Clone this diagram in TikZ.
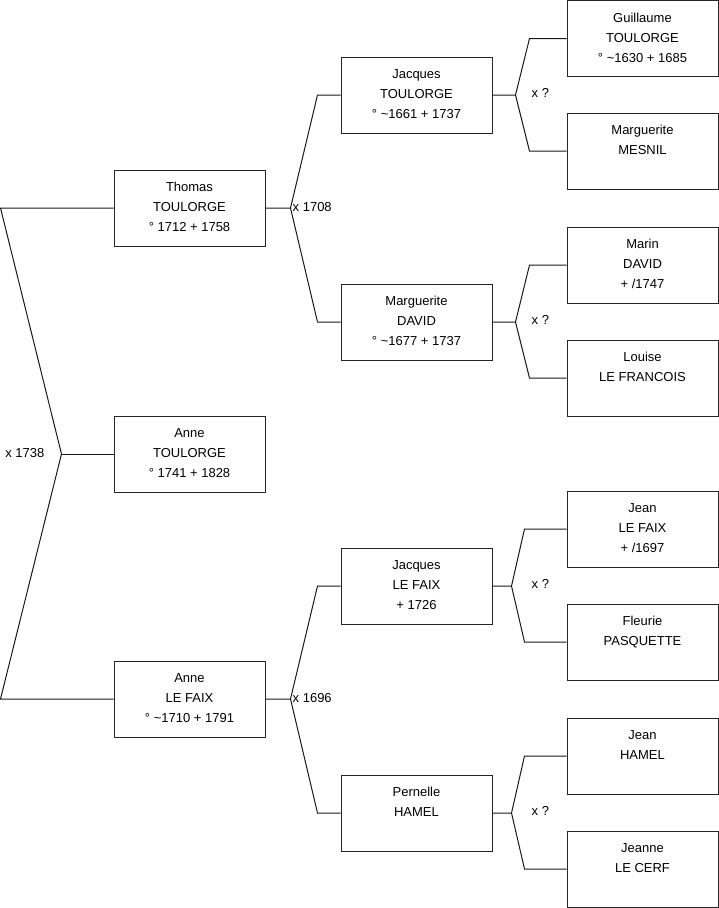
\documentclass[tikz,border=0pt]{standalone}
\usepackage{fontspec}
\setmainfont{Liberation Sans}
\newcommand\tailstrut{\rule[-2pt]{0pt}{2pt}}
\tikzset{
  person/.style={draw=black!85, line width=1pt, minimum width=151pt, minimum height=76pt,
    inner sep=0pt, align=center, font=\fontsize{13}{20}\selectfont},
  link/.style={draw=black!90, line width=1pt},
  union/.style={font=\fontsize{13}{16}\selectfont, inner sep=0pt}
}
\begin{document}
\begin{tikzpicture}[x=1pt,y=-1pt]
\useasboundingbox (0,0) rectangle (719,908);
% generation 1
\node[person] (thomas) at (189.5,208) {Thomas\\TOULORGE\\° 1712 + 1758\tailstrut};
\node[person] (anneT)  at (189.5,454) {Anne\\TOULORGE\\° 1741 + 1828\tailstrut};
\node[person] (anneLF) at (189.5,699) {Anne\\LE FAIX\\° \textasciitilde 1710 + 1791\tailstrut};
% generation 2
\node[person] (jacquesT)  at (416.5,95)  {Jacques\\TOULORGE\\° \textasciitilde 1661 + 1737\tailstrut};
\node[person] (margD)     at (416.5,322) {Marguerite\\DAVID\\° \textasciitilde 1677 + 1737\tailstrut};
\node[person] (jacquesLF) at (416.5,586) {Jacques\\LE FAIX\\+ 1726\tailstrut};
\node[person] (pernelle)  at (416.5,813) {Pernelle\\HAMEL\\\tailstrut};
% generation 3
\node[person] (guillaume) at (642.5,38.5) {Guillaume\\TOULORGE\\° \textasciitilde 1630 + 1685\tailstrut};
\node[person] (margM)     at (642.5,151) {Marguerite\\MESNIL\\\tailstrut};
\node[person] (marin)     at (642.5,265) {Marin\\DAVID\\+ /1747\tailstrut};
\node[person] (louise)    at (642.5,378) {Louise\\LE FRANCOIS\\\tailstrut};
\node[person] (jeanLF)    at (642.5,529) {Jean\\LE FAIX\\+ /1697\tailstrut};
\node[person] (fleurie)   at (642.5,642) {Fleurie\\PASQUETTE\\\tailstrut};
\node[person] (jeanH)     at (642.5,756) {Jean\\HAMEL\\\tailstrut};
\node[person] (jeanne)    at (642.5,869) {Jeanne\\LE CERF\\\tailstrut};

% fork x 1738
\coordinate (f0) at ([xshift=-52pt]anneT.west);
\coordinate (f0a) at ([xshift=-113pt]thomas.west);
\coordinate (f0b) at ([xshift=-113pt]anneLF.west);
\draw[link] (thomas.west) -- (f0a) -- (f0) -- (f0b) -- (anneLF.west);
\draw[link] (f0) -- (anneT.west);
\node[union, anchor=east] (u0) at ([xshift=-17pt,yshift=1pt]f0) {x 1738};

% fork x 1708
\coordinate (f1) at ([xshift=25pt]thomas.east);
\draw[link] (thomas.east) -- (f1) -- ([xshift=-23pt]jacquesT.west) -- (jacquesT.west);
\draw[link] (f1) -- ([xshift=-23pt]margD.west) -- (margD.west);
\node[union, anchor=west] (u1) at ([xshift=2pt,yshift=1pt]f1) {x 1708};

% fork x 1696
\coordinate (f2) at ([xshift=25pt]anneLF.east);
\draw[link] (anneLF.east) -- (f2) -- ([xshift=-23pt]jacquesLF.west) -- (jacquesLF.west);
\draw[link] (f2) -- ([xshift=-23pt]pernelle.west) -- (pernelle.west);
\node[union, anchor=west] (u2) at ([xshift=2pt,yshift=1pt]f2) {x 1696};

% forks generation 2 -> 3
\coordinate (g1) at ([xshift=23pt]jacquesT.east);
\draw[link] (jacquesT.east) -- (g1) -- ([xshift=-37pt]guillaume.west) -- (guillaume.west);
\draw[link] (g1) -- ([xshift=-37pt]margM.west) -- (margM.west);
\node[union, anchor=west] (v1) at ([xshift=16pt,yshift=2pt]g1) {x ?};

\coordinate (g2) at ([xshift=23pt]margD.east);
\draw[link] (margD.east) -- (g2) -- ([xshift=-37pt]marin.west) -- (marin.west);
\draw[link] (g2) -- ([xshift=-37pt]louise.west) -- (louise.west);
\node[union, anchor=west] (v2) at ([xshift=16pt,yshift=2pt]g2) {x ?};

\coordinate (g3) at ([xshift=19pt]jacquesLF.east);
\draw[link] (jacquesLF.east) -- (g3) -- ([xshift=-42pt]jeanLF.west) -- (jeanLF.west);
\draw[link] (g3) -- ([xshift=-42pt]fleurie.west) -- (fleurie.west);
\node[union, anchor=west] (v3) at ([xshift=20pt,yshift=2pt]g3) {x ?};

\coordinate (g4) at ([xshift=19pt]pernelle.east);
\draw[link] (pernelle.east) -- (g4) -- ([xshift=-42pt]jeanH.west) -- (jeanH.west);
\draw[link] (g4) -- ([xshift=-42pt]jeanne.west) -- (jeanne.west);
\node[union, anchor=west] (v4) at ([xshift=20pt,yshift=2pt]g4) {x ?};
\end{tikzpicture}
\end{document}
